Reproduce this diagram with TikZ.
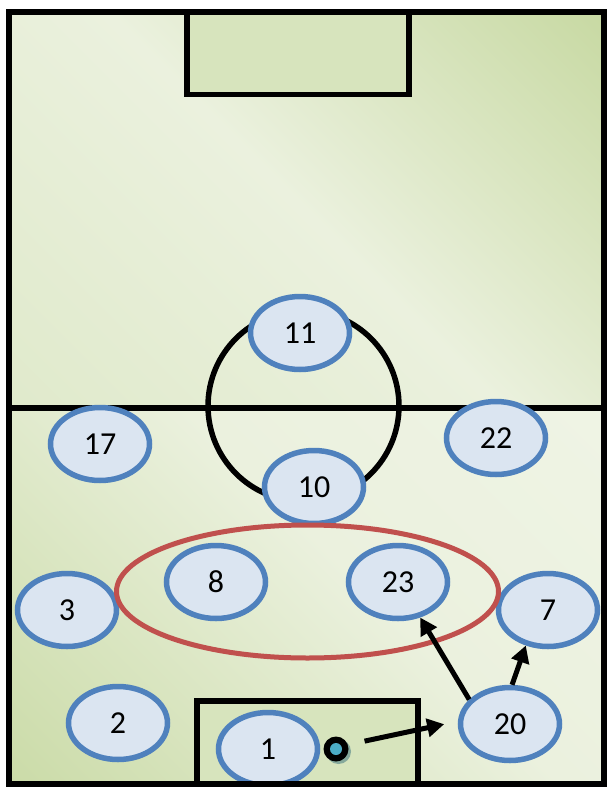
\documentclass[tikz,border=0pt]{standalone}
\usepackage{fontspec}
\setmainfont{Carlito}
\usetikzlibrary{shapes.geometric,arrows.meta}
\definecolor{pitchdark}{HTML}{C3D69B}
\definecolor{pitchmid}{HTML}{D7E4BD}
\definecolor{pitchlight}{HTML}{EBF1DE}
\definecolor{shirtfill}{HTML}{DBE5F1}
\definecolor{shirtline}{HTML}{4F81BD}
\definecolor{zonered}{HTML}{C0504D}
\definecolor{ballcyan}{HTML}{4BACC6}
\definecolor{ballshadow}{HTML}{86A99C}
\pgfdeclareverticalshading{tophalf}{100bp}{color(0bp)=(pitchmid!80!pitchlight);
  color(50bp)=(pitchlight); color(90bp)=(pitchdark); color(100bp)=(pitchdark)}
\pgfdeclareverticalshading{bottomhalf}{100bp}{color(0bp)=(pitchdark);
  color(15bp)=(pitchdark!80!pitchlight); color(55bp)=(pitchlight);
  color(100bp)=(pitchlight!70!white)}

\begin{document}
\begin{tikzpicture}[x=1pt,y=-1pt,
    player/.style={ellipse, draw=shirtline, fill=shirtfill, line width=5.5pt,
                   minimum width=99pt, minimum height=73pt, inner sep=0pt,
                   font=\fontsize{32pt}{32pt}\selectfont},
    pass/.style={line width=5pt, -{Triangle[length=17pt,width=18pt]}},
    markline/.style={line width=5.5pt}]
        \useasboundingbox (0,0) rectangle (609,787);
        % pitch halves
        \shade[shading=tophalf, shading angle=-45] (9,12) rectangle (604,408);
        \shade[shading=bottomhalf, shading angle=-45] (9,408) rectangle (604,784);
        % goal boxes
        \draw[markline, fill=pitchmid] (187,12) rectangle (409,94.5);
        \draw[markline, fill=pitchmid] (197,701) rectangle (418,784);
        \draw[markline] (9,408) -- (604,408);           %halfway line
        \draw[markline] (303.5,406) circle (95.5);      %centre circle
        % players
        \node[player] (p11) at (300,333) {11};
        \node[player] (p17) at (100,444) {17};
        \node[player] (p22) at (496,438) {22};
        \node[player] (p10) at (314,487) {10};
        \node[player] (p8)  at (216,582) {8};
        \node[player] (p23) at (398,582) {23};
        \node[player] (p3)  at (67,610)  {3};
        \node[player] (p7)  at (548,610) {7};
        \node[player] (p2)  at (118,723) {2};
        \node[player] (p1)  at (268,749) {1};
        \node[player] (p20) at (510,724) {20};
        \node[ellipse, draw=zonered, line width=5pt, minimum width=382pt,
              minimum height=133pt] (zone) at (307.5,591.5) {};
        % ball
        \fill[ballshadow] (338.5,751.5) circle (12.5);
        \node[circle, fill=black, minimum size=25pt, inner sep=0pt] (ball) at (336,749) {};
        \fill[ballcyan] (ball) circle (6);
        \draw[markline] (9,12) rectangle (604,784);     %touch lines
        % passes
        \draw[pass, shorten <=17pt, shorten >=14pt] (ball.20) -- (p20.177);
        \draw[pass] (p20.149) -- (p23.-58);
        \draw[pass] (p20.87) -- (p7.-122);
    \end{tikzpicture}
\end{document}
